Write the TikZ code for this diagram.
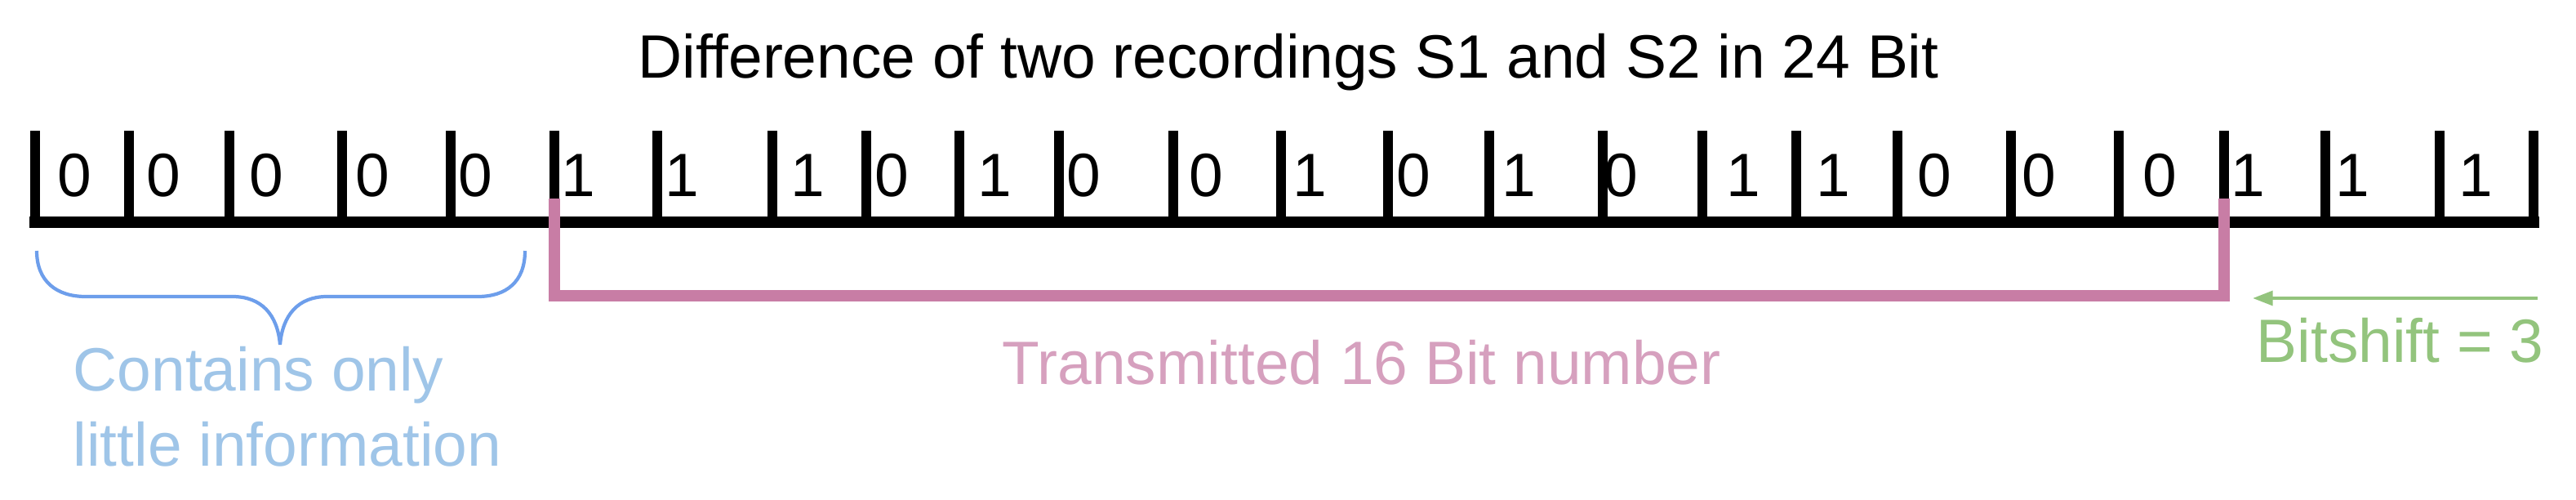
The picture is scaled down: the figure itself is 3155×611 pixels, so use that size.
\documentclass[tikz,border=0pt]{standalone}
\usepackage{fontspec}
\setmainfont{Liberation Sans}
\usetikzlibrary{arrows.meta}
\definecolor{pinkline}{RGB}{200,125,165}
\definecolor{pinktext}{RGB}{214,160,190}
\definecolor{bluebrace}{RGB}{109,158,235}
\definecolor{bluetext}{RGB}{159,197,232}
\definecolor{greenc}{RGB}{147,196,125}
\tikzset{
  lbl/.style={inner sep=0pt, font=\fontsize{21.3pt}{26pt}\selectfont},
  bit/.style={lbl, anchor=base},
  tickline/.style={line width=3.4pt, black},
  barline/.style={line width=4pt, black, line cap=rect},
  pinkbracket/.style={line width=4pt, pinkline, line join=miter},
  bluebr/.style={line width=1.2pt, bluebrace},
  shiftarrow/.style={line width=1.2pt, greenc, -{Triangle[length=7pt,width=5pt]}}
}
\begin{document}
\begin{tikzpicture}[x=0.01cm, y=-0.01cm]
\useasboundingbox (0,0) rectangle (3155,611);
% title
\node[lbl, anchor=base] (title) at (1578,95) {Difference of two recordings S1 and S2 in 24 Bit};
% ruler ticks
\foreach \x [count=\i] in {43,158,281,419,552,679,805,946,1061,1175,1297,1437,1569,1700,1824,1963,2085,2200,2324,2463,2595,2724,2848,2988,3103} {
  \coordinate (t\i) at (\x,272);
  \coordinate (h\i) at (\x,160);
  \draw[tickline] (h\i) -- (t\i);
}
\draw[barline] (t1) -- (t25);
% bits
\foreach \x/\d [count=\i] in {91/0,200/0,326/0,456/0,582/0,708/1,835/1,989/1,1092/0,1218/1,1327/0,1477/0,1604/1,1731/0,1860/1,1985/0,2135/1,2245/1,2369/0,2497/0,2645/0,2753/1,2881/1,3032/1} {
  \node[bit] (b\i) at (\x,240) {\d};
}
% pink bracket
\coordinate (ptop) at (0,243);
\coordinate (pbot) at (0,362);
\draw[pinkbracket] (t6 |- ptop) -- (t6 |- pbot) -- (t22 |- pbot) -- (t22 |- ptop);
\node[lbl, anchor=base west, text=pinktext] (trans) at (1227,470) {Transmitted 16 Bit number};
% blue brace
\coordinate (bl) at (45,307);
\coordinate (br) at (643,307);
\coordinate (btip) at (343,422);
\draw[bluebr] (bl) .. controls (45,345) and (70,363) .. (105,363) -- (285,363)
  .. controls (320,363) and (340,385) .. (btip)
  .. controls (346,385) and (366,363) .. (400,363) -- (585,363)
  .. controls (620,363) and (643,345) .. (br);
\node[lbl, anchor=base west, text=bluetext] (info1) at (89,478) {Contains only};
\node[lbl, anchor=base west, text=bluetext] (info2) at (89,570) {little information};
% green arrow
\coordinate (astart) at (3108,365);
\coordinate (aend) at (2759,365);
\draw[shiftarrow] (astart) -- (aend);
\node[lbl, anchor=base west, text=greenc] (shift) at (2763,443) {Bitshift = 3};
\end{tikzpicture}
\end{document}
